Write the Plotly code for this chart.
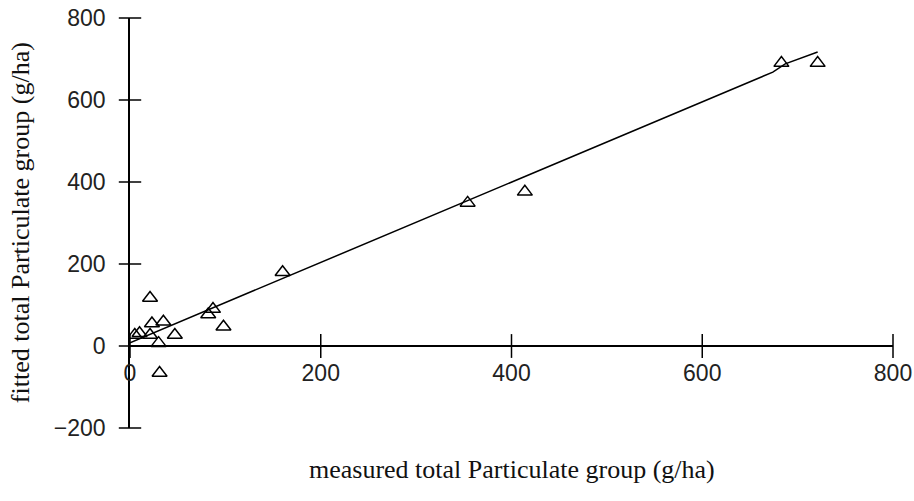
import plotly.graph_objects as go

# measured vs fitted values (g/ha)
measured = [5, 10, 21, 21, 23, 30, 31, 35, 47, 82, 87, 98, 160, 354, 414, 683, 721]
fitted = [27, 31, 117, 27, 55, 7, -66, 59, 27, 77, 90, 47, 180, 349, 376, 690, 690]

# fitted line
line_x = [0, 674, 687, 721]
line_y = [8, 668, 688, 717]

x_ticks = [0, 200, 400, 600, 800]
y_ticks = [-200, 0, 200, 400, 600, 800]

x_title = "measured total Particulate group (g/ha)"
y_title = "fitted total Particulate group (g/ha)"

tick_font = dict(family="Liberation Sans, Arial, sans-serif", size=23, color="#222222")
title_font = dict(family="Liberation Serif, Times New Roman, serif", size=26, color="#111111")

fig = go.Figure()
fig.add_trace(go.Scatter(x=line_x, y=line_y, mode="lines",
                         line=dict(color="black", width=1.5), hoverinfo="skip",
                         showlegend=False))
fig.add_trace(go.Scatter(x=measured, y=fitted, mode="markers",
                         marker=dict(symbol="triangle-up-open", size=13,
                                     color="black", line=dict(width=1.5, color="black")),
                         showlegend=False))

# crossing tick marks drawn as line markers on the axes
fig.add_trace(go.Scatter(x=x_ticks, y=[0] * len(x_ticks), mode="markers",
                         marker=dict(symbol="line-ns", size=17,
                                     line=dict(color="black", width=1.5)),
                         hoverinfo="skip", showlegend=False, cliponaxis=False))
fig.add_trace(go.Scatter(x=[0] * len(y_ticks), y=y_ticks, mode="markers",
                         marker=dict(symbol="line-ew", size=16,
                                     line=dict(color="black", width=1.5)),
                         hoverinfo="skip", showlegend=False, cliponaxis=False))

y0_frac = (0 - (-200)) / (800 - (-200))

fig.update_layout(
    width=914, height=501,
    margin=dict(l=130, r=21, t=18, b=73, autoexpand=False),
    paper_bgcolor="white", plot_bgcolor="white",
    xaxis=dict(range=[0, 800], tickvals=x_ticks, showgrid=False, zeroline=False,
               showline=True, linecolor="black", linewidth=1.5,
               ticks="", anchor="free", position=y0_frac, tickfont=tick_font,
               ticklabelstandoff=7, automargin=False),
    yaxis=dict(range=[-200, 800], tickvals=y_ticks, showgrid=False, zeroline=False,
               showline=True, linecolor="black", linewidth=1.5,
               ticks="", tickfont=tick_font, ticklabelstandoff=18, automargin=False),
    annotations=[
        dict(text=x_title, xref="paper", yref="paper", x=0.5, y=-0.102,
             showarrow=False, font=title_font, xanchor="center", yanchor="middle"),
        dict(text=y_title, xref="paper", yref="paper", x=-0.144, y=0.5,
             showarrow=False, font=title_font, textangle=-90,
             xanchor="center", yanchor="middle"),
    ],
)

fig.write_html("out.html")
